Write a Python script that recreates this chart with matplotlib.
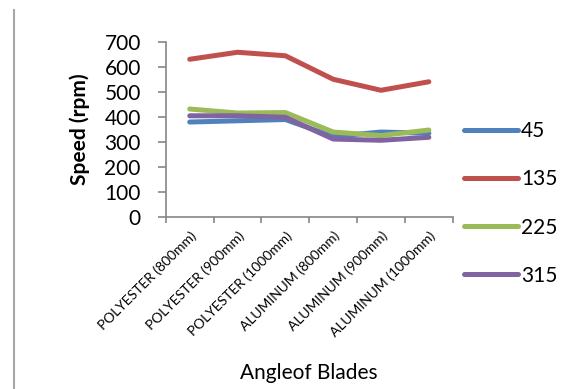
import matplotlib.pyplot as plt
from matplotlib.lines import Line2D

# ── data ──────────────────────────────────────────────
categories = ["POLYESTER (800mm)", "POLYESTER (900mm)", "POLYESTER (1000mm)",
              "ALUMINUM (800mm)", "ALUMINUM (900mm)", "ALUMINUM (1000mm)"]
series_names = ["45", "135", "225", "315"]
s45 = [380, 385, 390, 322, 340, 335]
s135 = [631, 659, 645, 551, 507, 541]
s225 = [432, 416, 418, 340, 326, 348]
s315 = [405, 405, 399, 312, 307, 319]
colors = ["#4F81BD", "#C0504D", "#9BBB59", "#8064A2"]

plt.rcParams["font.family"] = ["Lato", "DejaVu Sans"]

fig = plt.figure(figsize=(5.88, 3.89), dpi=100)
ax = fig.add_axes([0.282, 0.442, 0.488, 0.450])

x = list(range(len(categories)))
for vals, name, c in zip([s45, s135, s225, s315], series_names, colors):
    ax.plot(x, vals, color=c, linewidth=3.6, solid_capstyle="round",
            solid_joinstyle="round", label=name)

ax.set_xlim(-0.5, 5.5)
ax.set_ylim(0, 700)
ax.set_yticks(range(0, 701, 100))
ax.tick_params(axis="y", labelsize=15, length=6, width=1.2, color="#868686", pad=12)

# category labels at centres, tick marks at boundaries
ax.set_xticks(x)
ax.set_xticklabels(categories, rotation=45, ha="right", va="top",
                   rotation_mode="anchor", fontsize=10)
ax.tick_params(axis="x", length=0, pad=9)
ax.set_xticks([i - 0.5 for i in range(len(categories) + 1)], minor=True)
ax.tick_params(axis="x", which="minor", length=4, width=1.2, color="#868686")

for side in ["top", "right"]:
    ax.spines[side].set_visible(False)
for side in ["left", "bottom"]:
    ax.spines[side].set_color("#868686")
    ax.spines[side].set_linewidth(1.2)

ax.set_ylabel("Speed (rpm)", fontsize=15, fontweight="bold")
ax.yaxis.set_label_coords(-0.265, 0.5)
fig.text(0.525, 0.04, "Angleof Blades", fontsize=15, ha="center", va="center")

# legend
handles = [Line2D([], [], color=c, linewidth=3.6, solid_capstyle="round") for c in colors]
leg = fig.legend(handles, series_names, loc="center left", bbox_to_anchor=(0.757, 0.477),
                 frameon=False, fontsize=15, handlelength=2.6, handletextpad=0.15,
                 labelspacing=1.35)

# decorative left border line
fig.add_artist(Line2D([14 / 588, 14 / 588], [0.0, 1 - 10 / 389], color="#A6A6A6",
                      linewidth=1.5, transform=fig.transFigure))

fig.savefig("out.png", dpi=100)
